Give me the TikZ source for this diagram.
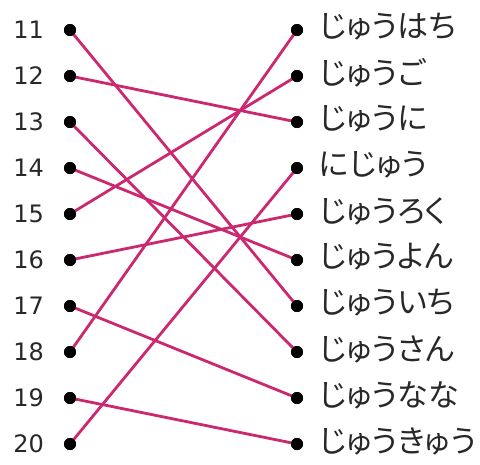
\documentclass[tikz,border=0pt]{standalone}
\usepackage{fontspec}
\newfontfamily\jpfont[RawFeature=+palt]{Noto Sans CJK JP}
\newfontfamily\numfont{DejaVu Sans}
\definecolor{linkpink}{RGB}{204,40,112}
\definecolor{txtgray}{RGB}{40,40,40}
\begin{document}
\begin{tikzpicture}[x=1pt,y=-1pt,
  dotnode/.style={circle,fill=black,inner sep=0pt,minimum size=12pt},
  numlabel/.style={anchor=east,inner sep=0pt,font=\numfont\fontsize{24}{24}\selectfont,text=txtgray},
  jplabel/.style={anchor=west,inner sep=0pt,font=\jpfont\fontsize{31}{31}\selectfont,text=txtgray},
  link/.style={draw=linkpink,line width=2.8pt}]
\useasboundingbox (0,0) rectangle (480,464);
\foreach \n [count=\i] in {11,...,20}{
  \pgfmathsetmacro\yy{30+(\i-1)*46}
  \node[numlabel] (n\i) at (44,\yy) {\n};
  \node[dotnode] (L\i) at (70,\yy) {};
}
\foreach \t [count=\i] in {じゅうはち,じゅうご,じゅうに,にじゅう,じゅうろく,じゅうよん,じゅういち,じゅうさん,じゅうなな,じゅうきゅう}{
  \pgfmathsetmacro\yy{30+(\i-1)*46}
  \node[dotnode] (R\i) at (297,\yy) {};
  \node[jplabel] (t\i) at (319,\yy-3) {\t};
}
\foreach \a/\b in {1/7,2/3,3/8,4/6,5/2,6/5,7/9,8/1,9/10,10/4}{
  \draw[link] (L\a.center) -- (R\b.center);
}
\foreach \i in {1,...,10}{
  \fill (L\i) circle (6pt);
  \fill (R\i) circle (6pt);
}
\end{tikzpicture}
\end{document}
